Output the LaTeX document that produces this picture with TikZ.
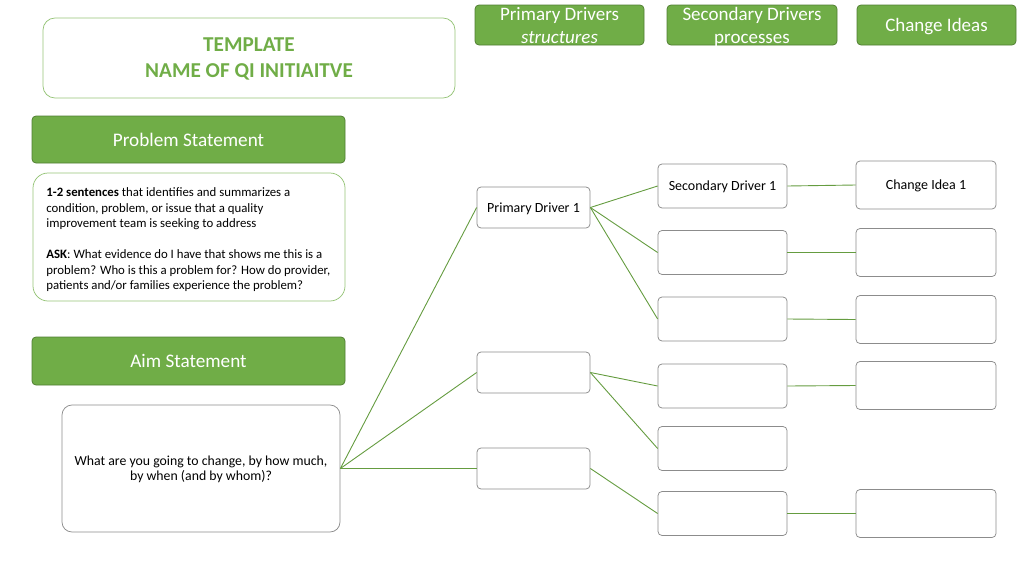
\documentclass[tikz,border=0pt]{standalone}
\usepackage{fontspec}
\setmainfont{Carlito}
\definecolor{qigreen}{RGB}{112,173,71}
\definecolor{qidark}{RGB}{80,126,50}
\definecolor{qilight}{RGB}{150,196,120}
\definecolor{qigray}{RGB}{140,140,140}
\tikzset{every picture/.style={line width=0.75pt}}
\tikzset{
  hdrbox/.style={draw=qidark,fill=qigreen,rounded corners=4pt,text=white,align=center,inner sep=0pt,text depth=0pt},
  drvbox/.style={draw=qigray,fill=white,rounded corners=4pt,align=center,inner sep=0pt,text depth=0pt,font=\fontsize{14}{16}\selectfont},
  link/.style={draw=qigreen!90!black,line width=0.9pt}
}

\begin{document}
\begin{tikzpicture}[x=1pt,y=1pt,yscale=-1,xscale=1]
\useasboundingbox (0,0) rectangle (1024,576);

% Title
\node (title) [draw=qilight,rounded corners=12pt,minimum width=412pt,minimum height=80pt,text=qigreen,align=center,text depth=0pt,font=\fontsize{21.2}{26}\selectfont\bfseries] at (249,58) {TEMPLATE\\NAME OF QI INITIAITVE};

% Column headers
\node (hprim) [hdrbox,minimum width=169pt,minimum height=40pt,font=\fontsize{19}{23}\selectfont] at (559.5,25) {Primary Drivers\\\textit{structures}};
\node (hsec) [hdrbox,minimum width=170pt,minimum height=40pt,font=\fontsize{19}{23}\selectfont] at (752,25) {Secondary Drivers\\processes};
\node (hchg) [hdrbox,minimum width=159pt,minimum height=40pt,font=\fontsize{19}{20}\selectfont] at (936.5,25) {Change Ideas};

% Problem statement
\node (probbar) [hdrbox,minimum width=313pt,minimum height=47pt,font=\fontsize{19.2}{20}\selectfont] at (188.5,139.5) {Problem Statement};
\node (probtext) [draw=qilight,rounded corners=15pt,minimum width=312pt,minimum height=128pt] at (189,237) {};
\node (probtxt) [anchor=north west,align=left,inner sep=0pt,font=\fontsize{12.8}{15.5}\selectfont] at (46,187.5) {\textbf{1-2 sentences} that identifies and summarizes a\\condition, problem, or issue that a quality\\improvement team is seeking to address\\[15.5pt]\textbf{ASK}: What evidence do I have that shows me this is a\\problem? Who is this a problem for? How do provider,\\patients and/or families experience the problem?};

% Aim statement
\node (aimbar) [hdrbox,minimum width=313pt,minimum height=48pt,font=\fontsize{19.2}{20}\selectfont] at (188.5,361) {Aim Statement};
\node (aim) [draw=qigray,rounded corners=10pt,minimum width=278pt,minimum height=127pt,align=center,inner sep=0pt,text depth=0pt,font=\fontsize{13.8}{15}\selectfont] at (201,468.5) {What are you going to change, by how much,\\by when (and by whom)?};

% Primary drivers
\node (p1) [drvbox,minimum width=113pt,minimum height=41pt] at (533.5,207.5) {Primary Driver 1};
\node (p2) [drvbox,minimum width=113pt,minimum height=41pt] at (533.5,372.5) {};
\node (p3) [drvbox,minimum width=113pt,minimum height=41pt] at (533.5,468.5) {};

% Secondary drivers
\node (s1) [drvbox,minimum width=129pt,minimum height=44pt] at (722.5,186) {Secondary Driver 1};
\node (s2) [drvbox,minimum width=129pt,minimum height=44pt] at (722.5,252.5) {};
\node (s3) [drvbox,minimum width=129pt,minimum height=44pt] at (722.5,319) {};
\node (s4) [drvbox,minimum width=129pt,minimum height=44pt] at (722.5,386) {};
\node (s5) [drvbox,minimum width=129pt,minimum height=44pt] at (722.5,448.5) {};
\node (s6) [drvbox,minimum width=129pt,minimum height=44pt] at (722.5,513.5) {};

% Change ideas
\node (c1) [drvbox,minimum width=140pt,minimum height=48pt] at (926,185) {Change Idea 1};
\node (c2) [drvbox,minimum width=140pt,minimum height=48pt] at (926,252.5) {};
\node (c3) [drvbox,minimum width=140pt,minimum height=48pt] at (926,319.5) {};
\node (c4) [drvbox,minimum width=140pt,minimum height=48pt] at (926,385.5) {};
\node (c5) [drvbox,minimum width=140pt,minimum height=48pt] at (926,513.5) {};

% Links
\draw [link] (aim.east) -- (p1.west);
\draw [link] (aim.east) -- (p2.west);
\draw [link] (aim.east) -- (p3.west);
\draw [link] (p1.east) -- (s1.west);
\draw [link] (p1.east) -- (s2.west);
\draw [link] (p1.east) -- (s3.west);
\draw [link] (p2.east) -- (s4.west);
\draw [link] (p2.east) -- (s5.west);
\draw [link] (p3.east) -- (s6.west);
\draw [link] (s1.east) -- (c1.west);
\draw [link] (s2.east) -- (c2.west);
\draw [link] (s3.east) -- (c3.west);
\draw [link] (s4.east) -- (c4.west);
\draw [link] (s6.east) -- (c5.west);

\end{tikzpicture}
\end{document}
